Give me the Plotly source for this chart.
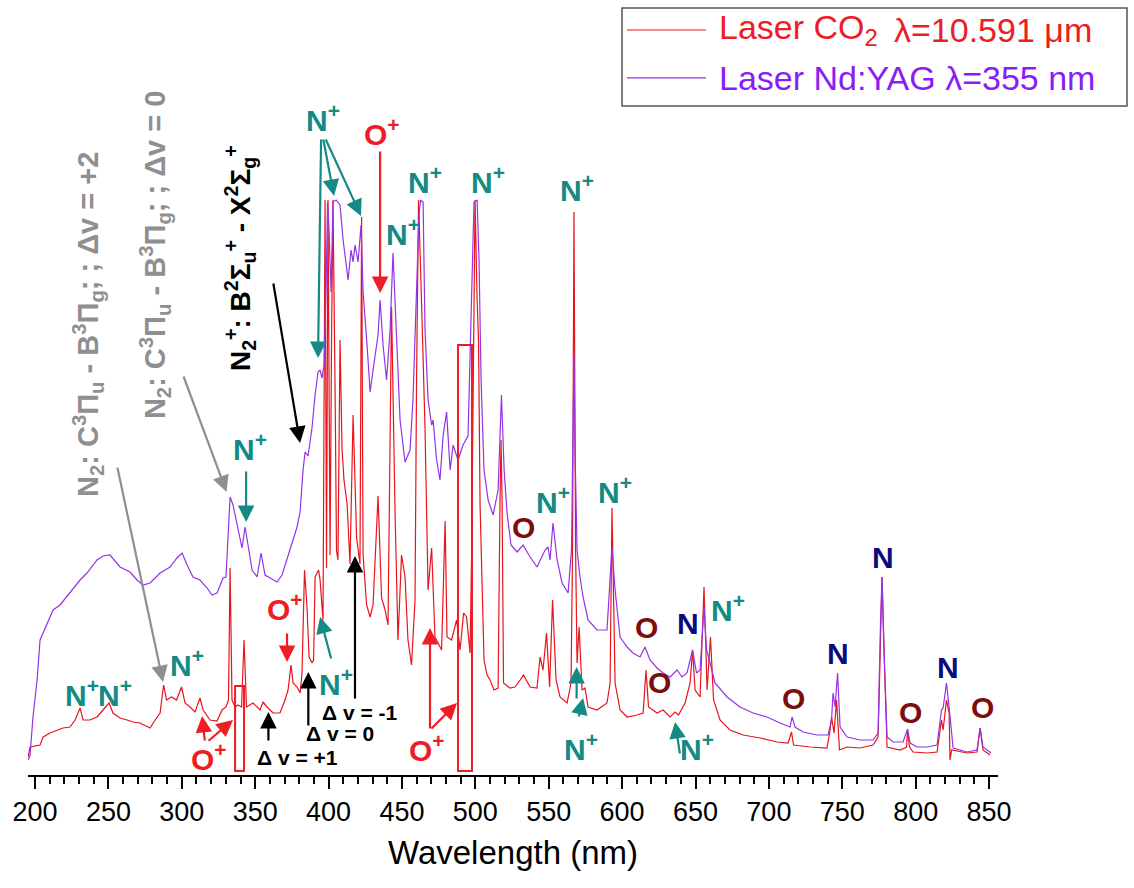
import plotly.graph_objects as go

# ---------------- data (wavelength in nm, intensity in arbitrary units) ----------------
co2_wl = [195.3, 196.6, 203.4, 205.5, 210.2, 215.0, 219.1, 223.8, 227.3, 230.7, 232.7, 237.5, 242.2, 246.3,
          250.4, 253.1, 257.9, 262.7, 266.8, 271.5, 276.3, 278.4, 281.8, 285.2, 287.6, 289.6, 293.0, 296.4,
          299.8, 302.2, 305.6, 309.0, 312.4, 314.5, 319.2, 324.0, 327.4, 330.1, 331.8, 332.9, 334.2, 336.3,
          338.3, 340.7, 342.4, 344.1, 348.5, 353.3, 355.3, 358.1, 362.2, 366.9, 370.3, 372.4, 374.4, 375.8,
          378.5, 380.6, 381.9, 383.6, 385.3, 386.7, 388.7, 389.8, 390.8, 392.1, 393.2, 394.2, 396.2, 397.6,
          398.6, 399.6, 401.0, 402.0, 403.0, 404.4, 405.4, 406.4, 407.8, 409.2, 410.5, 412.6, 414.6, 416.7,
          419.1, 421.4, 422.5, 423.5, 425.9, 428.3, 430.3, 433.7, 436.1, 438.5, 440.5, 442.9, 445.3, 447.3,
          449.7, 452.1, 454.1, 456.5, 458.9, 459.9, 461.3, 463.3, 465.7, 467.8, 470.2, 472.5, 477.0, 479.4,
          480.7, 483.8, 487.2, 489.6, 492.0, 494.0, 496.4, 497.4, 498.8, 499.8, 501.2, 502.2, 503.2, 504.6,
          505.9, 508.0, 510.0, 512.7, 515.5, 516.8, 517.5, 518.2, 519.2, 523.6, 527.0, 530.5, 532.8, 537.3,
          542.0, 544.1, 546.1, 548.5, 550.6, 552.6, 555.0, 557.7, 562.5, 565.2, 566.2, 567.2, 568.3, 569.3,
          570.7, 572.7, 574.7, 576.8, 582.9, 589.7, 591.8, 593.1, 595.2, 598.6, 603.4, 610.2, 614.3, 616.3,
          618.0, 623.8, 627.9, 632.7, 636.1, 638.4, 642.9, 646.3, 648.0, 649.7, 653.1, 655.8, 657.9, 660.2,
          662.3, 666.7, 673.5, 682.4, 694.0, 705.6, 713.1, 715.4, 716.8, 728.0, 739.6, 741.7, 742.7, 744.4,
          746.1, 748.1, 753.3, 762.1, 771.0, 774.4, 776.1, 777.1, 778.5, 780.5, 789.4, 793.8, 794.5, 795.8,
          798.2, 807.8, 814.6, 817.6, 818.7, 821.0, 822.8, 823.4, 824.5, 835.0, 841.8, 843.9, 845.9, 850.7]
co2_int = [18, 28, 30, 38, 42, 45, 47, 48, 55, 67, 55, 55, 58, 65,
           72, 62, 57, 55, 53, 52, 48, 47, 55, 62, 90, 75, 78, 75,
           88, 72, 68, 63, 77, 65, 55, 54, 65, 68, 75, 207, 75, 68,
           70, 68, 135, 68, 72, 65, 73, 68, 62, 62, 75, 85, 110, 92,
           88, 82, 102, 205, 168, 118, 112, 115, 198, 202, 205, 195, 155, 575,
           207, 575, 220, 432, 575, 390, 224, 215, 435, 325, 295, 271, 211, 360,
           237, 211, 558, 220, 170, 158, 170, 279, 177, 165, 150, 468, 262, 135,
           220, 198, 135, 110, 175, 390, 575, 475, 347, 185, 227, 138, 125, 254,
           138, 135, 155, 125, 162, 158, 122, 215, 425, 575, 475, 432, 271, 175,
           115, 100, 95, 85, 87, 275, 335, 275, 92, 87, 88, 95, 100, 88,
           87, 118, 105, 142, 88, 175, 95, 78, 72, 92, 225, 563, 225, 112,
           148, 85, 87, 68, 65, 72, 92, 267, 92, 65, 58, 60, 62, 105,
           68, 62, 65, 58, 63, 60, 72, 92, 125, 85, 78, 188, 85, 138,
           75, 55, 45, 40, 37, 33, 32, 43, 30, 28, 27, 45, 58, 42,
           75, 25, 28, 27, 30, 38, 155, 198, 122, 28, 25, 28, 45, 28,
           23, 22, 23, 55, 45, 75, 62, 15, 25, 22, 23, 47, 25, 20]

yag_wl = [195.3, 196.6, 198.6, 201.4, 203.4, 208.2, 212.3, 217.0, 223.8, 230.7, 235.4, 242.2, 246.3, 251.1,
          257.9, 264.7, 269.5, 273.6, 278.4, 285.2, 292.0, 296.7, 300.2, 303.6, 307.6, 312.4, 317.2, 320.6,
          324.0, 328.1, 330.1, 331.5, 332.9, 334.9, 337.6, 341.0, 343.1, 345.1, 347.9, 351.3, 354.0, 356.7,
          362.2, 364.9, 368.3, 371.7, 375.1, 378.5, 380.6, 382.6, 384.0, 386.0, 388.7, 390.8, 392.8, 394.2,
          395.5, 396.9, 398.3, 399.3, 400.3, 401.7, 403.0, 405.1, 407.8, 409.9, 411.9, 413.3, 415.3, 416.7,
          418.0, 420.1, 422.1, 423.5, 426.2, 428.3, 430.3, 432.3, 433.7, 435.1, 437.1, 439.5, 441.9, 443.9,
          446.3, 448.7, 452.1, 455.5, 457.5, 459.9, 461.6, 462.7, 464.4, 465.7, 467.8, 470.2, 471.2, 473.6,
          475.9, 478.0, 480.4, 482.8, 484.8, 488.2, 491.6, 495.0, 497.4, 499.1, 501.2, 502.5, 503.9, 505.9,
          508.7, 512.1, 515.5, 517.8, 519.6, 521.6, 524.3, 528.4, 532.5, 537.3, 542.0, 545.4, 547.5, 549.5,
          550.9, 552.9, 555.7, 559.1, 563.2, 565.5, 566.6, 567.2, 567.9, 569.3, 571.3, 573.4, 576.8, 582.9,
          589.7, 591.8, 593.1, 595.2, 598.6, 603.4, 607.4, 612.2, 615.6, 619.0, 623.8, 627.9, 632.7, 637.4,
          640.8, 644.2, 648.0, 650.7, 653.1, 655.8, 657.5, 659.9, 663.3, 671.5, 680.3, 689.2, 698.7, 707.6,
          714.4, 715.8, 717.8, 723.3, 732.8, 740.3, 742.7, 743.7, 745.1, 746.8, 748.5, 753.3, 762.1, 771.0,
          774.4, 776.1, 777.1, 778.5, 780.5, 784.6, 791.4, 794.5, 796.2, 800.9, 807.8, 814.6, 817.6, 818.7,
          821.0, 822.8, 825.5, 835.0, 841.8, 843.9, 845.9, 851.4]
yag_int = [15, 20, 58, 95, 135, 152, 165, 170, 182, 195, 202, 215, 219, 220,
           208, 203, 195, 190, 192, 202, 208, 217, 222, 210, 198, 195, 187, 180,
           182, 197, 198, 245, 278, 270, 250, 227, 248, 230, 205, 198, 222, 200,
           195, 193, 200, 215, 232, 248, 263, 305, 323, 319, 347, 380, 403, 405,
           397, 410, 485, 573, 545, 483, 573, 575, 570, 535, 513, 495, 525, 513,
           530, 513, 550, 483, 430, 383, 405, 425, 440, 475, 430, 395, 445, 522,
           445, 355, 313, 325, 375, 483, 560, 575, 573, 445, 375, 350, 355, 315,
           295, 339, 363, 305, 330, 315, 330, 339, 495, 573, 575, 515, 395, 305,
           275, 260, 285, 380, 305, 262, 230, 223, 230, 218, 208, 218, 225, 228,
           215, 252, 215, 192, 182, 225, 325, 420, 325, 225, 198, 178, 155, 145,
           145, 192, 228, 185, 138, 128, 122, 118, 128, 115, 107, 102, 98, 105,
           98, 102, 125, 102, 105, 168, 125, 112, 92, 78, 68, 62, 58, 52,
           48, 58, 48, 43, 40, 40, 55, 82, 68, 102, 48, 38, 35, 35,
           42, 155, 198, 122, 38, 33, 33, 46, 32, 28, 28, 30, 65, 67,
           92, 68, 27, 23, 25, 47, 28, 22]

series_names = ["Laser CO<sub>2</sub>    λ=10.591 μm", "Laser Nd:YAG λ=355 nm"]
x_ticks = [200, 250, 300, 350, 400, 450, 500, 550, 600, 650, 700, 750, 800, 850]

RED = "#E8141B"
RED_TXT = "#EE1C25"
PURPLE = "#9433E6"
PURPLE_TXT = "#8A1CF5"
TEAL = "#138A84"
MAROON = "#7E0C0C"
NAVY = "#0B0B80"
GRAY = "#8F8F8F"
FONT = "Liberation Sans, Arial, sans-serif"

fig = go.Figure()
fig.add_trace(go.Scatter(x=co2_wl, y=co2_int, mode="lines", name=series_names[0],
                         line=dict(color=RED, width=1.2)))
fig.add_trace(go.Scatter(x=yag_wl, y=yag_int, mode="lines", name=series_names[1],
                         line=dict(color=PURPLE, width=1.2)))

ann = []


def label(text, x, y, color, size=30):
    ann.append(dict(x=x, y=y, xref="x", yref="y", text="<b>" + text + "</b>", showarrow=False,
                    font=dict(family=FONT, size=size, color=color), xanchor="center", yanchor="middle"))


def arrow(x0, y0, x1, y1, color, width=2.2, size=1.5):
    ann.append(dict(x=x1, y=y1, ax=x0, ay=y0, xref="x", yref="y", axref="x", ayref="y", text="",
                    showarrow=True, arrowhead=2, arrowsize=size, arrowwidth=width, arrowcolor=color,
                    standoff=0, startstandoff=0))


NP = "N<sup>+</sup>"
OP = "O<sup>+</sup>"
# N+ labels
label(NP, 231.8, 82, TEAL)
label(NP, 254.5, 82, TEAL)
label(NP, 303.6, 112, TEAL)
label(NP, 346.5, 328, TEAL)
arrow(343.8, 305, 343.8, 253, TEAL)
label(NP, 396.2, 657, TEAL)
arrow(394.9, 637, 392.8, 417, TEAL)
arrow(396.2, 637, 403.7, 579, TEAL)
arrow(397.6, 637, 422.1, 559, TEAL)
label(NP, 450.7, 543, TEAL)
label(NP, 465.7, 595, TEAL)
label(NP, 508.6, 595, TEAL)
label(NP, 569.3, 587, TEAL)
label(NP, 405.1, 93, TEAL)
arrow(402.0, 115, 394.2, 158, TEAL)
label(NP, 552.9, 275, TEAL)
label(NP, 595.2, 285, TEAL)
label(NP, 572.0, 28, TEAL)
arrow(569.0, 75, 569.0, 108, TEAL)
arrow(570.3, 57, 573.4, 77, TEAL)
label(NP, 672.2, 167, TEAL)
label(NP, 651.0, 28, TEAL)
arrow(639.5, 20, 636.1, 53, TEAL)

# O+ labels
label(OP, 436.4, 643, RED_TXT)
arrow(435.1, 625, 435.1, 482, RED_TXT)
label(OP, 370.3, 168, RED_TXT)
arrow(371.7, 143, 371.7, 113, RED_TXT)
label(OP, 318.6, 18, RED_TXT)
arrow(315.8, 33, 313.8, 59, RED_TXT)
arrow(317.2, 33, 334.9, 55, RED_TXT)
label(OP, 467.1, 27, RED_TXT)
arrow(469.1, 45, 469.1, 147, RED_TXT)
arrow(469.1, 45, 487.5, 72, RED_TXT)

# O and N neutral labels
for (x, y) in [(532.5, 248), (616.3, 148), (625.8, 93), (716.5, 77), (796.2, 63), (845.2, 68)]:
    label("O", x, y, MAROON)
for (x, y) in [(644.9, 152), (747.1, 122), (777.8, 218), (822.1, 108)]:
    label("N", x, y, NAVY)

# vibrational sequences
label("Δ v = +1", 378.5, 18, "black", 21)
arrow(359.0, 33, 359.0, 63, "black")
label("Δ v = 0", 407.8, 42, "black", 21)
arrow(386.2, 48, 386.2, 103, "black")
label("Δ v = -1", 421.4, 63, "black", 21)
arrow(418.0, 75, 418.0, 219, "black")

# rotated band-system labels
ann.append(dict(x=236.1, y=450, xref="x", yref="y", textangle=-90, showarrow=False,
                text="<b>N<sub>2</sub>: C<sup>3</sup>Π<sub>u</sub> - B<sup>3</sup>Π<sub>g</sub>; ; Δv = +2</b>",
                font=dict(family=FONT, size=29, color=GRAY)))
arrow(255.9, 309, 287.2, 93, GRAY)
ann.append(dict(x=281.8, y=520, xref="x", yref="y", textangle=-90, showarrow=False,
                text="<b>N<sub>2</sub>: C<sup>3</sup>Π<sub>u</sub> - B<sup>3</sup>Π<sub>g</sub>; ; Δv = 0</b>",
                font=dict(family=FONT, size=29, color=GRAY)))
arrow(300.8, 400, 330.5, 283, GRAY)
ann.append(dict(x=339.7, y=517, xref="x", yref="y", textangle=-90, showarrow=False,
                text="<b>N<sub>2</sub><sup>+</sup>: B<sup>2</sup>Σ<sub>u</sub><sup>+</sup> - X<sup>2</sup>Σ<sub>g</sub><sup>+</sup></b>",
                font=dict(family=FONT, size=28, color="black")))
arrow(362.2, 493, 380.6, 332, "black")

# boxes and manual legend
shapes = [
    dict(type="rect", xref="x", yref="y", x0=336.3, x1=342.4, y0=4, y1=89, line=dict(color=RED_TXT, width=2)),
    dict(type="rect", xref="x", yref="y", x0=488.2, x1=497.7, y0=4, y1=430, line=dict(color=RED_TXT, width=2)),
    dict(type="rect", xref="paper", yref="paper", x0=0.6124, x1=1.1330, y0=0.8632, y1=0.9897,
         line=dict(color="#555555", width=1.5)),
    dict(type="line", xref="paper", yref="paper", x0=0.6175, x1=0.6990, y0=0.9613, y1=0.9613,
         line=dict(color=RED, width=1.2)),
    dict(type="line", xref="paper", yref="paper", x0=0.6175, x1=0.6990, y0=0.8994, y1=0.8994,
         line=dict(color=PURPLE, width=1.2)),
]
ann.append(dict(x=0.7103, y=0.9613, xref="paper", yref="paper", xanchor="left", yanchor="middle",
                showarrow=False, text="Laser CO<sub>2</sub>", font=dict(family=FONT, size=34, color=RED_TXT)))
ann.append(dict(x=0.8907, y=0.9613, xref="paper", yref="paper", xanchor="left", yanchor="middle",
                showarrow=False, text="λ=10.591 μm", font=dict(family=FONT, size=34, color=RED_TXT)))
ann.append(dict(x=0.7103, y=0.8994, xref="paper", yref="paper", xanchor="left", yanchor="middle",
                showarrow=False, text=series_names[1], font=dict(family=FONT, size=34, color=PURPLE_TXT)))

fig.update_layout(
    width=1134, height=888, margin=dict(l=28, r=136, t=0, b=113),
    plot_bgcolor="white", paper_bgcolor="white", showlegend=False,
    annotations=ann, shapes=shapes,
    xaxis=dict(range=[195.2, 856.1], showline=True, linecolor="black", linewidth=2, showgrid=False,
               zeroline=False, ticks="outside", tickvals=x_ticks, ticklen=12, tickwidth=2,
               tickcolor="black",
               minor=dict(dtick=10, ticks="outside", ticklen=7, tickwidth=1.5, tickcolor="black"),
               tickfont=dict(family=FONT, size=27, color="black"),
               title=dict(text="Wavelength (nm)", font=dict(family=FONT, size=33, color="black"),
                          standoff=14)),
    yaxis=dict(range=[0, 775], visible=False, fixedrange=True),
)

fig.write_html("out.html")
